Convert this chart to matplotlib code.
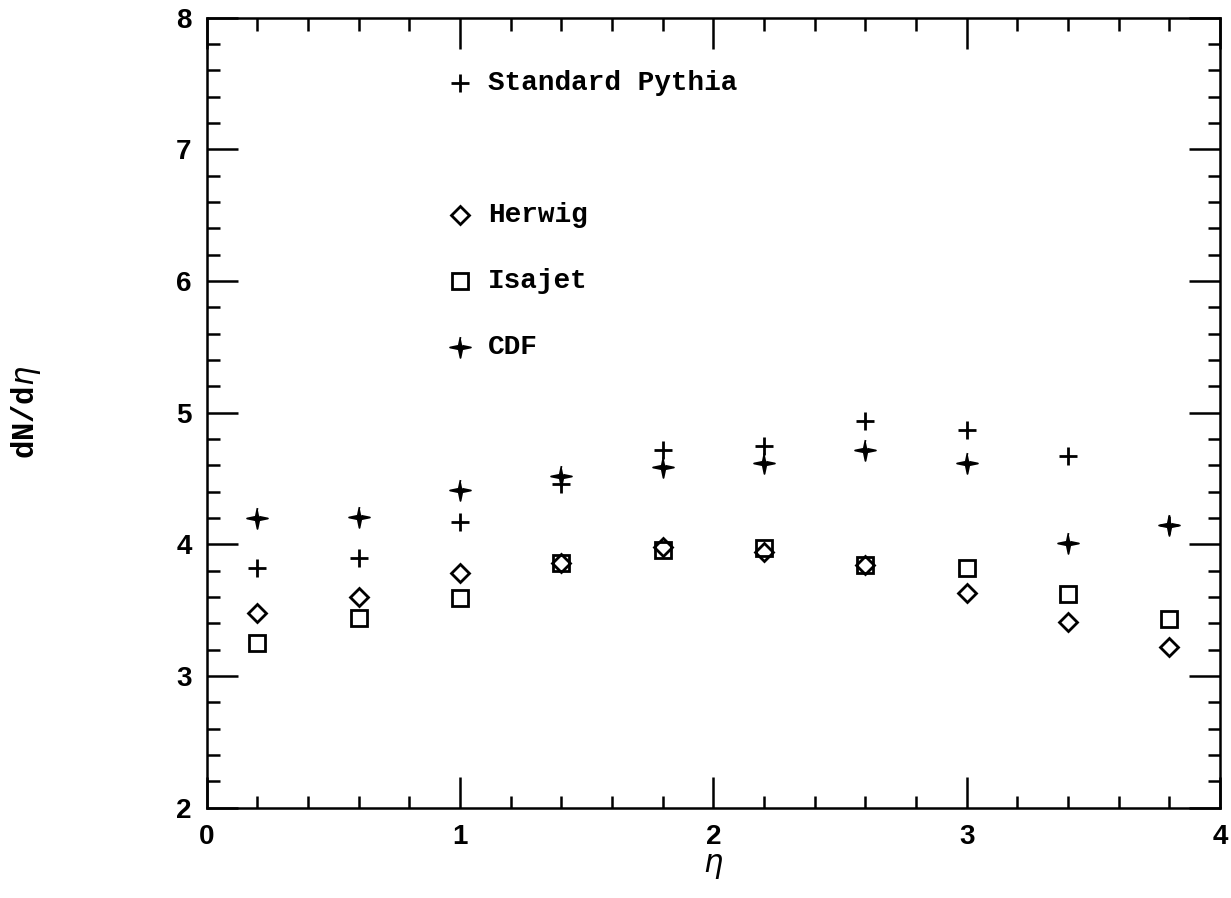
import numpy as np
import matplotlib
matplotlib.use("Agg")
import matplotlib.pyplot as plt
from matplotlib.ticker import MultipleLocator

# pseudorapidity bins
eta = [0.2, 0.6, 1.0, 1.4, 1.8, 2.2, 2.6, 3.0, 3.4, 3.8]

# dN/deta per generator
pythia = [3.82, 3.90, 4.17, 4.46, 4.72, 4.75, 4.94, 4.87, 4.67, 4.15]
herwig = [3.48, 3.60, 3.78, 3.86, 3.98, 3.94, 3.84, 3.63, 3.41, 3.22]
isajet = [3.25, 3.44, 3.59, 3.86, 3.96, 3.97, 3.84, 3.82, 3.62, 3.43]
cdf = [4.20, 4.21, 4.41, 4.52, 4.59, 4.62, 4.72, 4.62, 4.01, 4.15]

labels = ["Standard Pythia", "Herwig", "Isajet", "CDF"]
label_y = [7.5, 6.5, 6.0, 5.5]

text_font = "Liberation Mono"
tick_font = "Liberation Sans"

# thin four-pointed star for the data points
ang = np.arange(8) * np.pi / 4 + np.pi / 2
rad = np.where(np.arange(8) % 2 == 0, 1.0, 0.24)
star = list(zip(rad * np.cos(ang), rad * np.sin(ang)))

fig = plt.figure(figsize=(12.31, 8.98), dpi=100)
ax = fig.add_axes([0.168, 0.1005, 0.823, 0.88])

styles = [
    dict(marker="+", ms=13, mew=2.0, mfc="none"),
    dict(marker="D", ms=9, mew=2.0, mfc="none"),
    dict(marker="s", ms=12, mew=2.0, mfc="none"),
    dict(marker=star, ms=15, mew=1.3, mfc="black"),
]

for ys, st in zip([pythia, herwig, isajet, cdf], styles):
    ax.plot(eta, ys, ls="none", color="black", mec="black", **st)

# key drawn inside the frame
for lab, ly, st in zip(labels, label_y, styles):
    ax.plot([1.0], [ly], ls="none", color="black", mec="black", **st)
    ax.text(1.11, ly, lab, fontsize=20, family=text_font, fontweight="bold",
            va="center", ha="left")

ax.set_xlim(0, 4)
ax.set_ylim(2, 8)
ax.xaxis.set_major_locator(MultipleLocator(1))
ax.xaxis.set_minor_locator(MultipleLocator(0.2))
ax.yaxis.set_major_locator(MultipleLocator(1))
ax.yaxis.set_minor_locator(MultipleLocator(0.2))

ax.tick_params(which="both", direction="in", top=True, right=True, width=1.8)
ax.tick_params(which="major", length=22)
ax.tick_params(which="minor", length=9)
ax.tick_params(axis="x", pad=12)
ax.tick_params(axis="y", pad=11)
for sp in ax.spines.values():
    sp.set_linewidth(1.8)

for t in ax.get_xticklabels() + ax.get_yticklabels():
    t.set_fontfamily(tick_font)
    t.set_fontweight("bold")
    t.set_fontsize(20)

ax.set_xlabel(r"$\eta$", fontsize=22, labelpad=1)
ax.set_ylabel(r"dN/d$\eta$", fontsize=22, family=text_font, fontweight="bold",
              labelpad=96)

fig.savefig("out.png", dpi=100)
